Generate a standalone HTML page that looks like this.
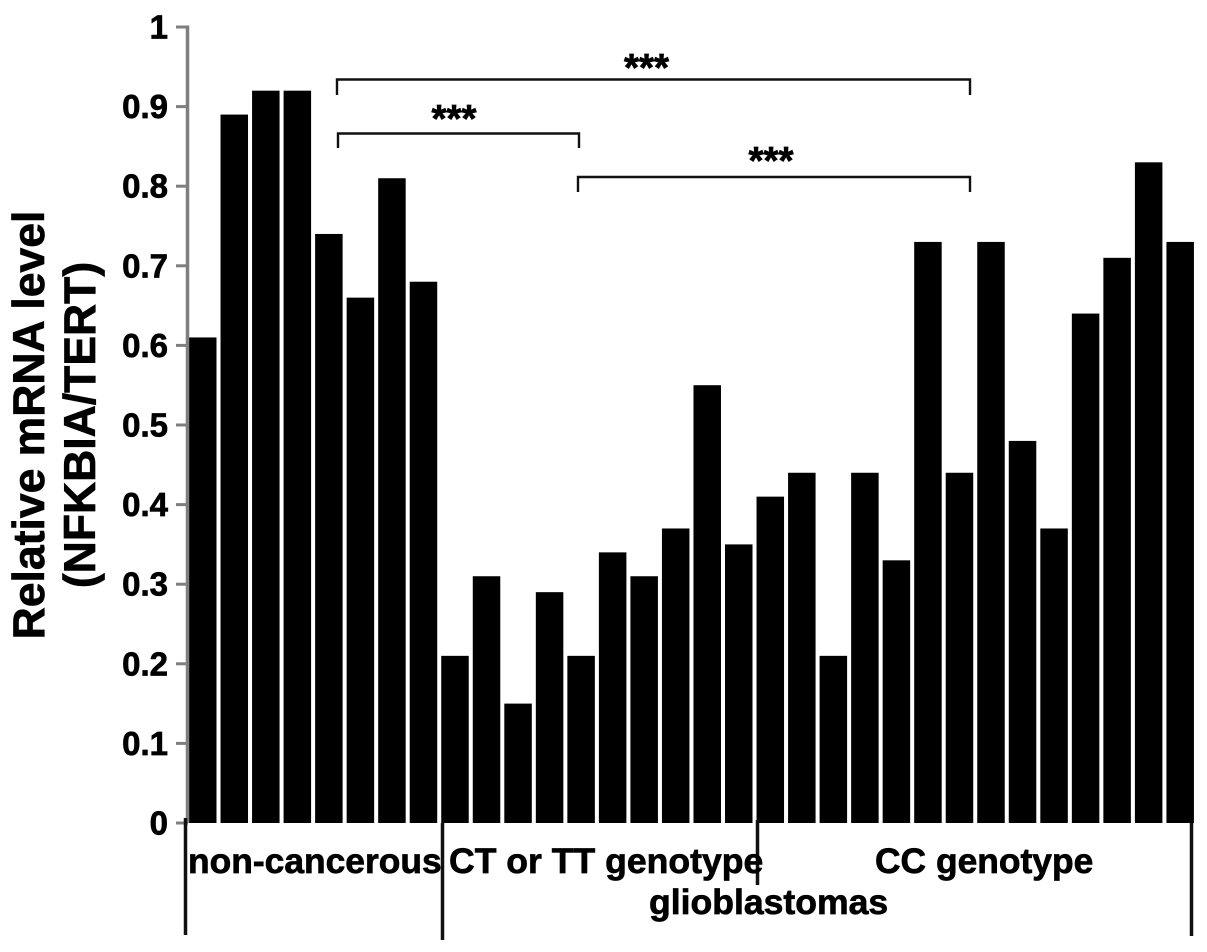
<!DOCTYPE html>
<html>
<head>
<meta charset="utf-8">
<style>
html,body{margin:0;padding:0;background:#fff;}
svg{display:block;}
text{font-family:"Liberation Sans",Arial,sans-serif;font-weight:bold;fill:#000;stroke:#000;stroke-width:0.7;}
</style>
</head>
<body>
<svg id="chart" xmlns="http://www.w3.org/2000/svg" width="1207" height="952" viewBox="0 0 1207 952">
  <text transform="translate(44 425) rotate(-90)" text-anchor="middle" font-size="44.5">Relative mRNA level</text>
  <text transform="translate(95 425) rotate(-90)" text-anchor="middle" font-size="44.5">(NFKBIA/TERT)</text>
  <g id="bars"></g>
  <g id="axis"></g>
  <g stroke="#111" stroke-width="3.5" fill="none">
    <line x1="185.5" y1="818" x2="185.5" y2="935"/>
    <line x1="442.5" y1="823" x2="442.5" y2="940"/>
    <line x1="757.5" y1="820" x2="757.5" y2="885"/>
    <line x1="1191.5" y1="823" x2="1191.5" y2="936"/>
  </g>
  <g stroke="#111" stroke-width="2.4" fill="none">
    <polyline points="337,95 337,79.5 970,79.5 970,95"/>
    <polyline points="338,148 338,133.5 579,133.5 579,148"/>
    <polyline points="578,192 578,177 970,177 970,192"/>
  </g>
  <text x="646.5" y="81" text-anchor="middle" font-size="38.5">***</text>
  <text x="454" y="132" text-anchor="middle" font-size="38.5">***</text>
  <text x="771" y="174" text-anchor="middle" font-size="38.5">***</text>
  <text x="188" y="873" font-size="35.4">non-cancerous</text>
  <text x="449" y="873" font-size="35.6">CT or TT genotype</text>
  <text x="875" y="873" font-size="35.4">CC genotype</text>
  <text x="649" y="914" font-size="35.6">glioblastomas</text>
</svg>
<script>
const nonCancerous = [0.61, 0.89, 0.92, 0.92, 0.74, 0.66, 0.81, 0.68];
const ctTtGenotype = [0.21, 0.31, 0.15, 0.29, 0.21, 0.34, 0.31, 0.37, 0.55, 0.35];
const ccGenotype = [0.41, 0.44, 0.21, 0.44, 0.33, 0.73, 0.44, 0.73, 0.48, 0.37, 0.64, 0.71, 0.83, 0.73];
const tickValues = [0, 0.1, 0.2, 0.3, 0.4, 0.5, 0.6, 0.7, 0.8, 0.9, 1];

const NS = 'http://www.w3.org/2000/svg';
function yScale(v) { return 823 - v * 796; }
function xScale(i) { return 189 + i * 31.53; }
const BAR_WIDTH = 27.5;

const barsGroup = document.getElementById('bars');
const axisGroup = document.getElementById('axis');

function drawSeries(values, startIndex, prefix) {
  values.forEach(function (v, i) {
    const r = document.createElementNS(NS, 'rect');
    
    
    r.setAttribute('x', xScale(startIndex + i));
    r.setAttribute('y', yScale(v));
    r.setAttribute('width', BAR_WIDTH);
    r.setAttribute('height', yScale(0) - yScale(v));
    r.setAttribute('fill', '#000');
    barsGroup.appendChild(r);
  });
}
drawSeries(nonCancerous, 0, 'non-cancerous');
drawSeries(ctTtGenotype, nonCancerous.length, 'ct-tt-genotype');
drawSeries(ccGenotype, nonCancerous.length + ctTtGenotype.length, 'cc-genotype');

const spine = document.createElementNS(NS, 'line');


spine.setAttribute('x1', 187.5);
spine.setAttribute('x2', 187.5);
spine.setAttribute('y1', yScale(1) - 1.5);
spine.setAttribute('y2', yScale(0));
spine.setAttribute('stroke', '#7f7f7f');
spine.setAttribute('stroke-width', 3.5);
axisGroup.appendChild(spine);

tickValues.forEach(function (v) {
  const t = document.createElementNS(NS, 'line');
  
  
  t.setAttribute('x1', 176);
  t.setAttribute('x2', 188);
  t.setAttribute('y1', yScale(v));
  t.setAttribute('y2', yScale(v));
  t.setAttribute('stroke', '#7f7f7f');
  t.setAttribute('stroke-width', 3);
  axisGroup.appendChild(t);

  const l = document.createElementNS(NS, 'text');
  
  
  l.setAttribute('x', 168);
  l.setAttribute('y', yScale(v) + 11.5);
  l.setAttribute('text-anchor', 'end');
  l.setAttribute('font-size', 33);
  l.textContent = String(v);
  axisGroup.appendChild(l);
});
</script>
</body>
</html>
